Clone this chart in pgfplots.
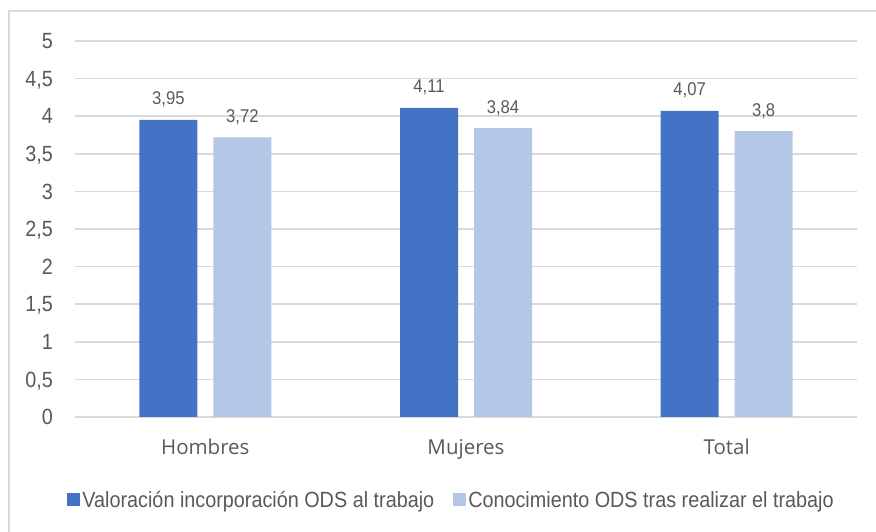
\documentclass[border=0pt]{standalone}
\usepackage{fontspec}
\setmainfont{Liberation Sans}
\newfontfamily\narrowfont[FakeStretch=0.9]{Liberation Sans}
\newfontfamily\catfont{Open Sans}
\usepackage{pgfplots}
\pgfplotsset{compat=1.18}
\definecolor{darkbar}{HTML}{4472C4}
\definecolor{lightbar}{HTML}{B4C7E7}
\definecolor{txt}{HTML}{595959}
\definecolor{gridc}{HTML}{D9D9D9}
\begin{document}
\begin{tikzpicture}
\begin{axis}[
  at={(0pt,0pt)}, anchor=south west,
  scale only axis, width=782pt, height=376pt,
  xmin=-0.5, xmax=2.5, ymin=0, ymax=5,
  ybar=16pt, bar width=58pt,
  ytick={0,0.5,1,1.5,2,2.5,3,3.5,4,4.5,5},
  xtick={0,1,2}, xticklabels={Hombres,Mujeres,Total},
  ymajorgrids, grid style={gridc, line width=1.5pt},
  axis x line*=bottom, axis y line*=left,
  y axis line style={draw=none},
  x axis line style={gridc, line width=1.5pt},
  major tick length=0pt, tick style={draw=none},
  /pgf/number format/use comma,
  /pgf/number format/assume math mode=true,
  yticklabel style={font=\narrowfont\fontsize{22}{26}\selectfont, text=txt, anchor=east, inner sep=0pt, xshift=-22pt, text depth=0pt},
  xticklabel style={font=\catfont\fontsize{20.5}{24}\selectfont, text=txt, anchor=base, inner sep=0pt, yshift=-38pt},
  nodes near coords,
  every node near coord/.append style={font=\narrowfont\fontsize{18.5}{21}\selectfont, text=txt, anchor=south, inner sep=0pt, text depth=0pt, yshift=15pt},
  legend style={at={(axis description cs:0.4815,-0.2207)}, anchor=center, draw=none, fill=none,
    font=\narrowfont\fontsize{22}{26}\selectfont, text=txt,
    /tikz/every even column/.append style={column sep=17pt}},
  legend columns=2,
  legend image code/.code={\fill[#1] (0pt,-6.5pt) rectangle (13pt,6.5pt);},
]
\addplot[fill=darkbar, draw=none] coordinates {(0,3.95) (1,4.11) (2,4.07)};
\addplot[fill=lightbar, draw=none] coordinates {(0,3.72) (1,3.84) (2,3.8)};
\legend{Valoración incorporación ODS al trabajo, Conocimiento ODS tras realizar el trabajo}
\end{axis}
\draw[gridc, line width=1.3pt] (-66pt,-120pt) -- (-66pt,406pt) -- (810pt,406pt);
\pgfresetboundingbox
\useasboundingbox (-75pt,-115pt) rectangle (801pt,417pt);
\end{tikzpicture}
\end{document}
